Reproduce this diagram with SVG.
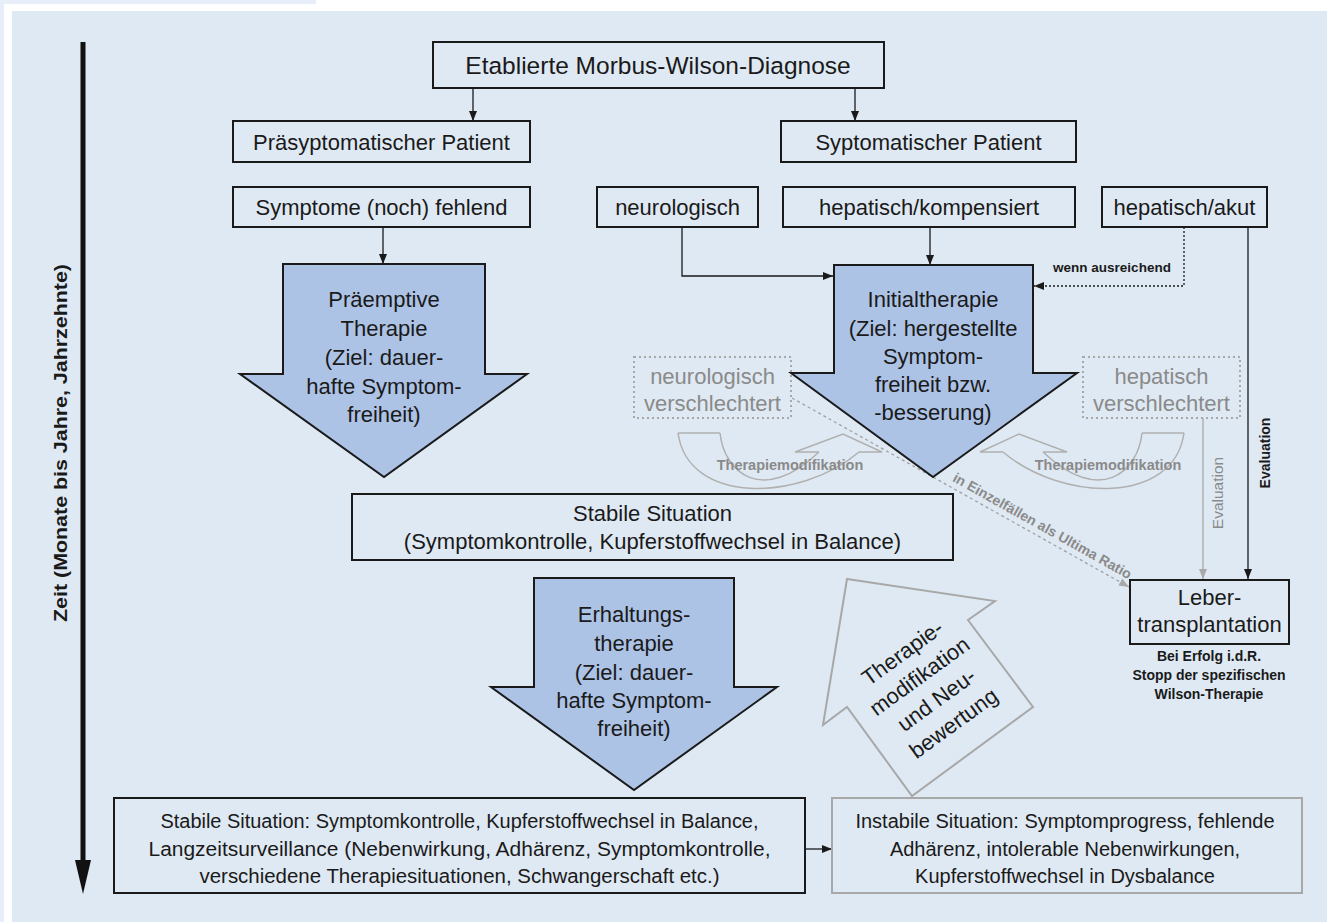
<svg xmlns="http://www.w3.org/2000/svg" width="1327" height="922" viewBox="0 0 1327 922">
<defs>
<style>
.t{font-family:"Liberation Sans",Arial,sans-serif;font-size:22px;fill:#1a1a1a;text-anchor:middle}
.b{font-weight:bold}
.s13{font-size:13.5px}
.box{fill:none;stroke:#1a1a1a;stroke-width:2}
.big{fill:#adc3e6;stroke:#1a1a1a;stroke-width:2;stroke-linejoin:miter}
.gbox{fill:none;stroke:#a8a8a8;stroke-width:2;stroke-dasharray:2 3}
.gt{fill:#8a8a8a}
.ln{fill:none;stroke:#1a1a1a;stroke-width:1.3}
.gl{fill:none;stroke:#b0b0b0;stroke-width:1.5}
</style>
<marker id="ah" viewBox="0 0 10 8" refX="10" refY="4" markerWidth="10" markerHeight="8" markerUnits="userSpaceOnUse" orient="auto"><path d="M0,0 L10,4 L0,8 z" fill="#1a1a1a"/></marker>
<marker id="ahg" viewBox="0 0 10 8" refX="10" refY="4" markerWidth="10" markerHeight="8" markerUnits="userSpaceOnUse" orient="auto"><path d="M0,0 L10,4 L0,8 z" fill="#a8a8a8"/></marker>
</defs>

<rect x="0" y="0" width="1327" height="922" fill="#ffffff"/>
<rect x="0" y="0" width="316" height="4" fill="#e7eef9"/>
<rect x="0" y="4" width="4" height="918" fill="#e7eef9"/>
<rect x="12" y="11" width="1315" height="911" fill="#dfe9f3"/>

<g id="timeaxis">
<line x1="83" y1="42" x2="83" y2="866" stroke="#111" stroke-width="5"/>
<polygon points="75,860 91,860 83,894" fill="#111"/>
<text class="t b" transform="translate(67,443) rotate(-90)" style="font-size:18px" textLength="358" lengthAdjust="spacingAndGlyphs">Zeit (Monate bis Jahre, Jahrzehnte)</text>
</g>

<g id="connectors">
<line class="ln" x1="473" y1="88" x2="473" y2="121" marker-end="url(#ah)"/>
<line class="ln" x1="855" y1="88" x2="855" y2="121" marker-end="url(#ah)"/>
<line class="ln" x1="383" y1="227" x2="383" y2="264" marker-end="url(#ah)"/>
<line class="ln" x1="930" y1="227" x2="930" y2="265" marker-end="url(#ah)"/>
<polyline class="ln" points="682,227 682,276 833,276" marker-end="url(#ah)"/>
<polyline class="ln" points="1184,227 1184,286 1034,286" stroke-dasharray="2 2" marker-end="url(#ah)"/>
<text class="t b s13" x="1112" y="272">wenn ausreichend</text>
<line class="ln" x1="1248" y1="227" x2="1248" y2="579" marker-end="url(#ah)"/>
<text class="t b" style="font-size:14px" transform="translate(1270,453) rotate(-90)">Evaluation</text>
<line class="gl" x1="1203" y1="418" x2="1203" y2="579" stroke-width="1.3" marker-end="url(#ahg)"/>
<text class="t gt" style="font-size:15.5px" transform="translate(1223,493) rotate(-90)">Evaluation</text>
<line x1="792" y1="398" x2="1129" y2="587" stroke="#a0a0a0" stroke-width="1.3" stroke-dasharray="3 3" marker-end="url(#ahg)"/>
<text class="t b gt" style="font-size:14px" transform="translate(1040,530) rotate(29.2)">in Einzelfällen als Ultima Ratio</text>
<line class="ln" x1="805" y1="849" x2="832" y2="849" marker-end="url(#ah)"/>
</g>

<g id="diagnose">
<rect class="box" x="433" y="42" width="451" height="46"/>
<text class="t" x="658" y="73.5" style="font-size:24.5px">Etablierte Morbus-Wilson-Diagnose</text>
</g>
<g id="praesymptomatisch">
<rect class="box" x="233" y="121" width="297" height="41"/>
<text class="t" x="381.5" y="149.5">Präsyptomatischer Patient</text>
</g>
<g id="symptomatisch">
<rect class="box" x="781" y="121" width="295" height="41"/>
<text class="t" x="928.5" y="149.5">Syptomatischer Patient</text>
</g>
<g id="fehlend">
<rect class="box" x="233" y="187" width="297" height="40"/>
<text class="t" x="381.5" y="215">Symptome (noch) fehlend</text>
</g>
<g id="neurologisch">
<rect class="box" x="597" y="187" width="161" height="40"/>
<text class="t" x="677.5" y="215">neurologisch</text>
</g>
<g id="kompensiert">
<rect class="box" x="783" y="187" width="292" height="40"/>
<text class="t" x="929" y="215">hepatisch/kompensiert</text>
</g>
<g id="akut">
<rect class="box" x="1102" y="187" width="165" height="40"/>
<text class="t" x="1184.5" y="215">hepatisch/akut</text>
</g>

<g id="praeemptiv">
<polygon class="big" points="283,264 485,264 485,374 527,374 384,477 240,374 283,374"/>
<text class="t" x="384" y="307">Präemptive</text>
<text class="t" x="384" y="336">Therapie</text>
<text class="t" x="384" y="365">(Ziel: dauer-</text>
<text class="t" x="384" y="394">hafte Symptom-</text>
<text class="t" x="384" y="422">freiheit)</text>
</g>

<g id="initialtherapie">
<polygon class="big" points="834,265 1033,265 1033,373 1077,373 933,477 791,373 834,373"/>
<text class="t" x="933" y="307">Initialtherapie</text>
<text class="t" x="933" y="336">(Ziel: hergestellte</text>
<text class="t" x="933" y="364">Symptom-</text>
<text class="t" x="933" y="392">freiheit bzw.</text>
<text class="t" x="933" y="420">-besserung)</text>
</g>

<g id="neuro-verschlechtert">
<rect class="gbox" x="634" y="357" width="157" height="61"/>
<text class="t gt" x="712.5" y="384">neurologisch</text>
<text class="t gt" x="712.5" y="411">verschlechtert</text>
</g>
<g id="hep-verschlechtert">
<rect class="gbox" x="1083" y="357" width="157" height="61"/>
<text class="t gt" x="1161.5" y="384">hepatisch</text>
<text class="t gt" x="1161.5" y="411">verschlechtert</text>
</g>

<g id="modifikation-links">
<path class="gl" d="M819,452 L795,452 L843,434 L882,452 L859,452"/>
<path class="gl" d="M678,433 L720,433"/>
<path class="gl" d="M678,433 C688,505 800,502 859,452"/>
<path class="gl" d="M720,433 C724,472 762,506 819,452"/>
<text class="t b gt" style="font-size:14.5px" x="790" y="470">Therapiemodifikation</text>
</g>
<g id="modifikation-rechts">
<path class="gl" d="M1043,452 L1067,452 L1019,434 L980,452 L1003,452"/>
<path class="gl" d="M1142,433 L1184,433"/>
<path class="gl" d="M1184,433 C1174,505 1062,502 1003,452"/>
<path class="gl" d="M1142,433 C1138,472 1100,506 1043,452"/>
<text class="t b gt" style="font-size:14.5px" x="1108" y="470">Therapiemodifikation</text>
</g>

<g id="stabil">
<rect class="box" x="352" y="494" width="601" height="66"/>
<text class="t" x="652.5" y="521">Stabile Situation</text>
<text class="t" x="652.5" y="549">(Symptomkontrolle, Kupferstoffwechsel in Balance)</text>
</g>

<g id="erhaltung">
<polygon class="big" points="534,578 734,578 734,687 777,687 634,790 491,687 534,687"/>
<text class="t" x="634" y="622">Erhaltungs-</text>
<text class="t" x="634" y="651">therapie</text>
<text class="t" x="634" y="680">(Ziel: dauer-</text>
<text class="t" x="634" y="708">hafte Symptom-</text>
<text class="t" x="634" y="736">freiheit)</text>
</g>

<g id="neubewertung">
<polygon points="847,579 995,601 968,620 1033,707 912,796 847,707 823,725" fill="none" stroke="#a8a8a8" stroke-width="2"/>
<g transform="translate(928,688) rotate(-36)">
<text class="t" x="0" y="-36">Therapie-</text>
<text class="t" x="0" y="-7">modifikation</text>
<text class="t" x="0" y="22">und Neu-</text>
<text class="t" x="0" y="51">bewertung</text>
</g>
</g>

<g id="leber">
<rect class="box" x="1130" y="580" width="159" height="64"/>
<text class="t" x="1209.5" y="605">Leber-</text>
<text class="t" x="1209.5" y="632">transplantation</text>
<text class="t b" style="font-size:14px" x="1209" y="661">Bei Erfolg i.d.R.</text>
<text class="t b" style="font-size:14px" x="1209" y="680">Stopp der spezifischen</text>
<text class="t b" style="font-size:14px" x="1209" y="699">Wilson-Therapie</text>
</g>

<g id="stabil-langzeit">
<rect class="box" x="114" y="798" width="691" height="95"/>
<text class="t" x="459.5" y="828" style="font-size:20px" textLength="598" lengthAdjust="spacingAndGlyphs">Stabile Situation: Symptomkontrolle, Kupferstoffwechsel in Balance,</text>
<text class="t" x="459.5" y="855.5" style="font-size:20px" textLength="622" lengthAdjust="spacingAndGlyphs">Langzeitsurveillance (Nebenwirkung, Adhärenz, Symptomkontrolle,</text>
<text class="t" x="459.5" y="883" style="font-size:20px" textLength="520" lengthAdjust="spacingAndGlyphs">verschiedene Therapiesituationen, Schwangerschaft etc.)</text>
</g>

<g id="instabil">
<rect x="832" y="798" width="470" height="95" fill="none" stroke="#a8a8a8" stroke-width="2"/>
<text class="t" x="1065" y="828" style="font-size:20px">Instabile Situation: Symptomprogress, fehlende</text>
<text class="t" x="1065" y="855.5" style="font-size:20px">Adhärenz, intolerable Nebenwirkungen,</text>
<text class="t" x="1065" y="883" style="font-size:20px">Kupferstoffwechsel in Dysbalance</text>
</g>
</svg>
